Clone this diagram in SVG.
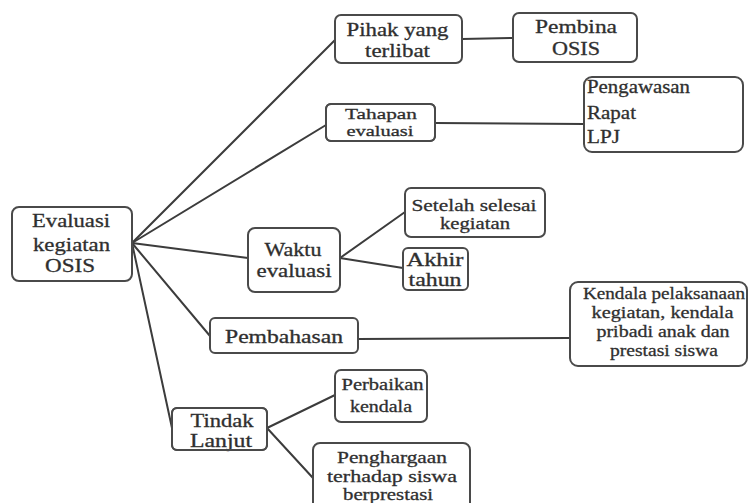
<svg xmlns="http://www.w3.org/2000/svg" width="750" height="503" viewBox="0 0 750 503">
<style>
.box{fill:#fff;stroke:#4a4a4a;stroke-width:2;}
.bd{fill:none;stroke:#4a4a4a;stroke-width:2;}
.t{font-family:'Liberation Serif','Times New Roman',Times,serif;fill:#2f2f2f;stroke:#2f2f2f;stroke-width:0.3;text-anchor:middle;}
.l{text-anchor:start;}
.c line{stroke:#3c3c3c;stroke-width:2;stroke-linecap:round;}
</style>
<rect width="750" height="503" fill="#fff"/>
<g class="c" id="connectors">
<line x1="132" y1="243" x2="335" y2="40"/>
<line x1="132" y1="243" x2="326" y2="125"/>
<line x1="132" y1="243" x2="248" y2="258"/>
<line x1="132" y1="243" x2="210" y2="336"/>
<line x1="132" y1="243" x2="172" y2="428"/>
<line x1="462" y1="39" x2="513" y2="38"/>
<line x1="435" y1="123" x2="584" y2="124"/>
<line x1="340" y1="258" x2="405" y2="212"/>
<line x1="340" y1="258" x2="403" y2="268"/>
<line x1="358" y1="339" x2="570" y2="338"/>
<line x1="267" y1="428" x2="335" y2="395"/>
<line x1="267" y1="428" x2="313" y2="478"/>
</g>
<g id="root">
<rect class="box" x="12" y="207" width="120" height="74" rx="7"/>
<text class="t" font-family="Liberation Serif, serif" font-size="19" x="71" y="227" textLength="78" lengthAdjust="spacingAndGlyphs">Evaluasi</text>
<text class="t" font-family="Liberation Serif, serif" font-size="19" x="71.5" y="251" textLength="77" lengthAdjust="spacingAndGlyphs">kegiatan</text>
<text class="t" font-family="Liberation Serif, serif" font-size="19" x="70" y="272" textLength="50" lengthAdjust="spacingAndGlyphs">OSIS</text>
</g>
<g id="pihak">
<rect class="box" x="335" y="15" width="127" height="48" rx="6"/>
<text class="t" font-family="Liberation Serif, serif" font-size="18" x="397.5" y="36" textLength="102" lengthAdjust="spacingAndGlyphs">Pihak yang</text>
<text class="t" font-family="Liberation Serif, serif" font-size="18" x="397.5" y="57" textLength="65" lengthAdjust="spacingAndGlyphs">terlibat</text>
</g>
<g id="pembina">
<rect class="box" x="513" y="13" width="124" height="49" rx="6"/>
<text class="t" font-family="Liberation Serif, serif" font-size="18.5" x="576" y="33" textLength="82" lengthAdjust="spacingAndGlyphs">Pembina</text>
<text class="t" font-family="Liberation Serif, serif" font-size="18.5" x="576" y="55" textLength="48" lengthAdjust="spacingAndGlyphs">OSIS</text>
</g>
<g id="tahapan">
<rect class="box" x="326" y="104" width="109" height="37" rx="5"/>
<text class="t" font-family="Liberation Serif, serif" font-size="15.5" x="381" y="119" textLength="72" lengthAdjust="spacingAndGlyphs">Tahapan</text>
<text class="t" font-family="Liberation Serif, serif" font-size="15.5" x="380" y="135.5" textLength="67" lengthAdjust="spacingAndGlyphs">evaluasi</text>
<rect class="bd" x="326" y="104" width="109" height="37" rx="5"/>
</g>
<g id="pengawasan">
<rect class="box" x="584" y="77" width="159" height="75" rx="8"/>
<text class="t l" font-family="Liberation Serif, serif" font-size="18" x="587" y="93" textLength="103" lengthAdjust="spacingAndGlyphs">Pengawasan</text>
<text class="t l" font-family="Liberation Serif, serif" font-size="18" x="587" y="119" textLength="49" lengthAdjust="spacingAndGlyphs">Rapat</text>
<text class="t l" font-family="Liberation Serif, serif" font-size="18" x="587" y="143" textLength="33" lengthAdjust="spacingAndGlyphs">LPJ</text>
</g>
<g id="waktu">
<rect class="box" x="248" y="228" width="92" height="64" rx="7"/>
<text class="t" font-family="Liberation Serif, serif" font-size="18" x="293" y="256" textLength="57" lengthAdjust="spacingAndGlyphs">Waktu</text>
<text class="t" font-family="Liberation Serif, serif" font-size="18" x="294" y="276.5" textLength="75" lengthAdjust="spacingAndGlyphs">evaluasi</text>
</g>
<g id="setelah">
<rect class="box" x="405" y="188" width="140" height="49" rx="6"/>
<text class="t" font-family="Liberation Serif, serif" font-size="17" x="474" y="210.5" textLength="125" lengthAdjust="spacingAndGlyphs">Setelah selesai</text>
<text class="t" font-family="Liberation Serif, serif" font-size="17" x="475" y="229" textLength="70" lengthAdjust="spacingAndGlyphs">kegiatan</text>
</g>
<g id="akhir">
<rect class="box" x="403" y="248" width="65" height="42" rx="5"/>
<text class="t" font-family="Liberation Serif, serif" font-size="18" x="435" y="266" textLength="57" lengthAdjust="spacingAndGlyphs">Akhir</text>
<text class="t" font-family="Liberation Serif, serif" font-size="18" x="435" y="286" textLength="53" lengthAdjust="spacingAndGlyphs">tahun</text>
</g>
<g id="pembahasan">
<rect class="box" x="210" y="318" width="148" height="35" rx="5"/>
<text class="t" font-family="Liberation Serif, serif" font-size="18" x="284" y="342.5" textLength="118" lengthAdjust="spacingAndGlyphs">Pembahasan</text>
</g>
<g id="kendala">
<rect class="box" x="570" y="282" width="177" height="84" rx="8"/>
<text class="t" font-family="Liberation Serif, serif" font-size="17" x="664" y="299" textLength="162" lengthAdjust="spacingAndGlyphs">Kendala pelaksanaan</text>
<text class="t" font-family="Liberation Serif, serif" font-size="17" x="662.5" y="317.5" textLength="142" lengthAdjust="spacingAndGlyphs">kegiatan, kendala</text>
<text class="t" font-family="Liberation Serif, serif" font-size="17" x="663" y="336.5" textLength="133" lengthAdjust="spacingAndGlyphs">pribadi anak dan</text>
<text class="t" font-family="Liberation Serif, serif" font-size="17" x="664" y="356" textLength="108" lengthAdjust="spacingAndGlyphs">prestasi siswa</text>
</g>
<g id="tindak">
<rect class="box" x="172" y="408" width="95" height="42" rx="5"/>
<text class="t" font-family="Liberation Serif, serif" font-size="18" x="222" y="426.5" textLength="63" lengthAdjust="spacingAndGlyphs">Tindak</text>
<text class="t" font-family="Liberation Serif, serif" font-size="18" x="221" y="447" textLength="62" lengthAdjust="spacingAndGlyphs">Lanjut</text>
<rect class="bd" x="172" y="408" width="95" height="42" rx="5"/>
</g>
<g id="perbaikan">
<rect class="box" x="335" y="370" width="92" height="52" rx="6"/>
<text class="t" font-family="Liberation Serif, serif" font-size="17" x="382.5" y="390" textLength="82" lengthAdjust="spacingAndGlyphs">Perbaikan</text>
<text class="t" font-family="Liberation Serif, serif" font-size="17" x="381" y="411.5" textLength="62" lengthAdjust="spacingAndGlyphs">kendala</text>
</g>
<g id="penghargaan">
<rect class="box" x="313" y="443" width="157" height="70" rx="7"/>
<text class="t" font-family="Liberation Serif, serif" font-size="17" x="392" y="463" textLength="110" lengthAdjust="spacingAndGlyphs">Penghargaan</text>
<text class="t" font-family="Liberation Serif, serif" font-size="17" x="392" y="481.5" textLength="130" lengthAdjust="spacingAndGlyphs">terhadap siswa</text>
<text class="t" font-family="Liberation Serif, serif" font-size="17" x="388" y="500" textLength="90" lengthAdjust="spacingAndGlyphs">berprestasi</text>
</g>
</svg>
